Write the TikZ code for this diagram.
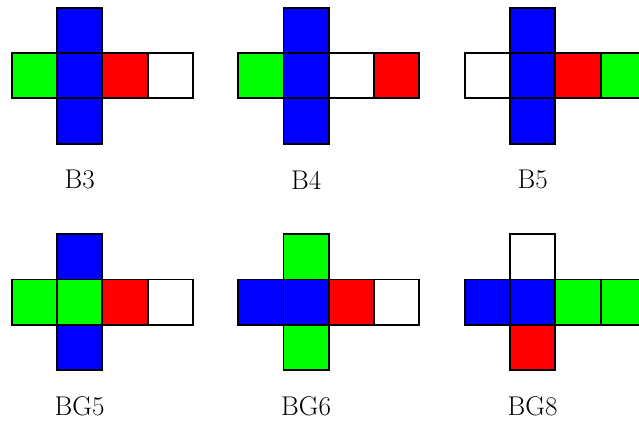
\documentclass[tikz,border=0pt]{standalone}
\usepackage{tikz}
\definecolor{fblue}{RGB}{0,0,255}
\definecolor{fgreen}{RGB}{0,255,0}
\definecolor{fred}{RGB}{255,0,0}
\tikzset{
  face/.style={draw=black, line width=1.2pt},
  netlabel/.style={font=\fontsize{17}{20}\selectfont, inner sep=0pt}
}
% one cube net: left, centre, right, far right, top, bottom colours
\newcommand{\cubenet}[9]{%
  \begin{scope}[shift={(#1,#2)}]
    \draw[face, fill=#3] (0,-1) rectangle ++(1,-1);
    \draw[face, fill=#4] (1,-1) rectangle ++(1,-1);
    \draw[face, fill=#5] (2,-1) rectangle ++(1,-1);
    \draw[face, fill=#6] (3,-1) rectangle ++(1,-1);
    \draw[face, fill=#7] (1,0) rectangle ++(1,-1);
    \draw[face, fill=#8] (1,-2) rectangle ++(1,-1);
    \node[netlabel] at (1.5,-3.8) {#9};
  \end{scope}}
\begin{document}
\begin{tikzpicture}
  \useasboundingbox (0,0) rectangle (14.106,-9.294);
  \clip (0,0) rectangle (14.106,-9.294);
  \cubenet{0.258}{-0.17}{fgreen}{fblue}{fred}{white}{fblue}{fblue}{B3}
  \cubenet{5.258}{-0.17}{fgreen}{fblue}{white}{fred}{fblue}{fblue}{B4}
  \cubenet{10.258}{-0.17}{white}{fblue}{fred}{fgreen}{fblue}{fblue}{B5}
  \cubenet{0.258}{-5.17}{fgreen}{fgreen}{fred}{white}{fblue}{fblue}{BG5}
  \cubenet{5.258}{-5.17}{fblue}{fblue}{fred}{white}{fgreen}{fgreen}{BG6}
  \cubenet{10.258}{-5.17}{fblue}{fblue}{fgreen}{fgreen}{white}{fred}{BG8}
\end{tikzpicture}
\end{document}
